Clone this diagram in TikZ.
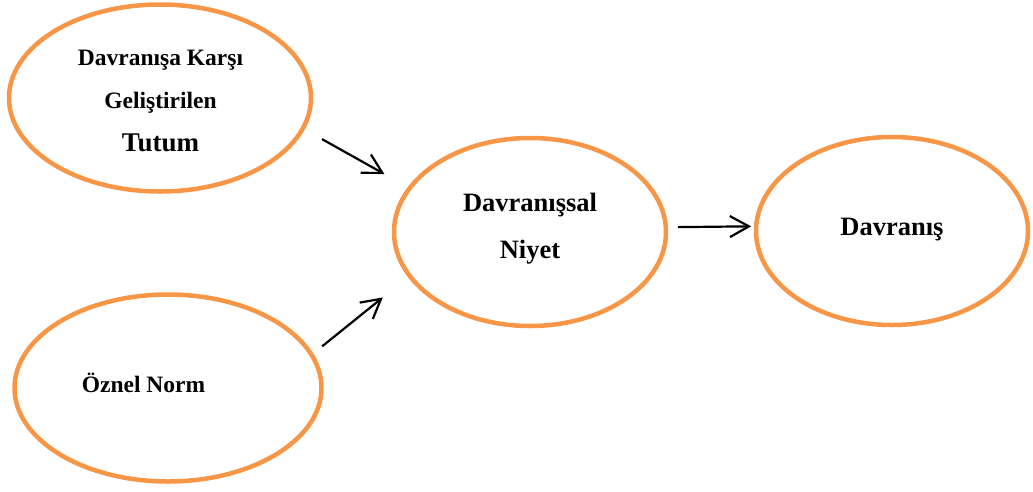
\documentclass[tikz,border=0pt]{standalone}
\usepackage{fontspec}
\setmainfont{Liberation Serif}
\usetikzlibrary{shapes.geometric,arrows.meta}
\definecolor{ringorange}{HTML}{F79646}
\begin{document}
\begin{tikzpicture}[x=1pt,y=-1pt,
  ring/.style={ellipse,draw=ringorange,line width=4.5pt,inner sep=0pt,outer sep=0pt},
  lblsmall/.style={font=\bfseries\fontsize{23.5}{28}\selectfont,anchor=base,inner sep=0pt},
  lblbig/.style={font=\bfseries\fontsize{26.5}{32}\selectfont,anchor=base,inner sep=0pt},
  arr/.style={-{Straight Barb[length=19pt,width=21pt]},line width=2.2pt,black}]
\useasboundingbox (0,0) rectangle (1033,491);

% the four concepts
\node[ring,minimum width=302pt,minimum height=187pt] (tutum) at (160,98) {};
\node[ring,minimum width=307pt,minimum height=187pt] (norm) at (168,388) {};
\node[ring,minimum width=272pt,minimum height=188pt] (niyet) at (530,232) {};
\node[ring,minimum width=272pt,minimum height=188pt] (davranis) at (892,231) {};

% their labels
\node[lblsmall] (t1) at (160.5,65.5) {Davranışa Karşı};
\node[lblsmall] (t2) at (160.5,108) {Geliştirilen};
\node[lblsmall,font=\bfseries\fontsize{27}{32}\selectfont] (t3) at (160.5,151) {Tutum};
\node[lblsmall] (n1) at (143.5,392) {Öznel Norm};
\node[lblbig] (y1) at (530,211) {Davranışsal};
\node[lblbig] (y2) at (530,258) {Niyet};
\node[lblbig] (d1) at (892,235) {Davranış};

% influences
\draw[arr,shorten <=22pt,shorten >=29pt] (tutum.-12) -- (niyet.160);
\draw[arr,shorten <=13.6pt,shorten >=34.5pt] (norm.13.4) -- (niyet.-160);
\draw[arr,shorten <=12pt,shorten >=5pt] (niyet.2.5) -- (davranis.178.3);
\end{tikzpicture}
\end{document}
